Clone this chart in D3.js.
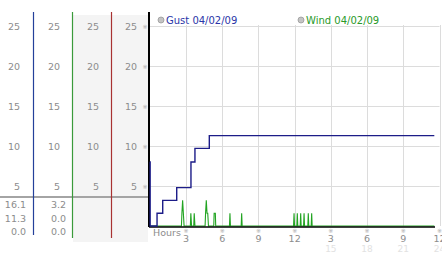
<!DOCTYPE html>
<html>
<head>
<meta charset="utf-8">
<script src="https://cdn.jsdelivr.net/npm/d3@7"></script>
<style>
  body { margin: 0; background: #fff; }
  svg { display: block; font-family: "DejaVu Sans", sans-serif; }
</style>
</head>
<body>
<div id="container"></div>
<script>
// datos
const yTicks = [5, 10, 15, 20, 25];
const xTicks = [3, 6, 9, 12, 15, 18, 21, 24];
const xLabels = ["3", "6", "9", "12", "3", "6", "9", "12"];
const xLabels2 = ["", "", "", "", "15", "18", "21", "24"];

// resumen bajo el panel izquierdo (max / actual / min)
const gustStats = ["16.1", "11.3", "0.0"];
const windStats = ["3.2", "0.0", "0.0"];

// ráfaga: [hora, valor]
const gust = [
  [0, 8.0], [0.03, 0], [0.6, 1.6], [1.07, 3.2], [2.23, 4.8],
  [3.41, 8.0], [3.74, 9.7], [4.93, 11.3], [23.57, 11.3]
];

// viento: [hora, valor]
const wind = [
  [0, 0], [2.62, 0], [2.66, 1.6], [2.72, 3.2], [2.78, 1.6], [2.84, 0],
  [3.36, 0], [3.4, 1.6], [3.46, 0], [3.64, 0], [3.68, 1.6], [3.74, 0],
  [4.58, 0], [4.62, 1.6], [4.68, 3.2], [4.74, 1.6], [4.8, 1.6], [4.86, 0],
  [5.3, 0], [5.33, 1.6], [5.43, 1.6], [5.46, 0],
  [6.6, 0], [6.64, 1.6], [6.68, 0],
  [7.57, 0], [7.61, 1.6], [7.65, 0],
  [11.91, 0], [11.95, 1.6], [11.99, 0],
  [12.18, 0], [12.22, 1.6], [12.26, 0],
  [12.46, 0], [12.5, 1.6], [12.54, 0],
  [12.74, 0], [12.78, 1.6], [12.82, 0],
  [13.09, 0], [13.13, 1.6], [13.17, 0],
  [13.37, 0], [13.41, 1.6], [13.45, 0],
  [23.57, 0]
];

const WIDTH = 442, HEIGHT = 253;

const svg = d3.select('#container').append('svg')
  .attr("width", WIDTH).attr("height", HEIGHT);

const x = d3.scaleLinear().domain([0, 24]).range([149.8, 439.5]);
const y = d3.scaleLinear().domain([0, 25]).range([226, 26]);

const gray = "#8c8c8c";

// fondos grises de las columnas 3 y 4
svg.append("rect").attr("x", 73).attr("y", 15).attr("width", 75).attr("height", 227)
  .attr("fill", "#f4f4f4");

// columnas de etiquetas del eje y
const cols = [20, 60, 99, 137];
cols.forEach(cx => {
  svg.append("g").selectAll("text").data(yTicks).join("text")
    .attr("x", cx).attr("y", d => y(d) + 3.5)
    .attr("text-anchor", "end")
    .attr("font-size", 9.5).attr("fill", gray)
    .text(d => d);
});

// marcas pequeñas junto al eje
svg.append("g").selectAll("text").data(yTicks).join("text")
  .attr("x", 145).attr("y", d => y(d) + 2.5)
  .attr("text-anchor", "middle")
  .attr("font-size", 6).attr("fill", "#aaa")
  .text("※");

// separador horizontal
svg.append("line").attr("x1", 0).attr("x2", 149).attr("y1", 197).attr("y2", 197)
  .attr("stroke", "#a4a4a4").attr("stroke-width", 2);

// líneas de color de las columnas
const colLines = [
  { x: 33.5, color: "#24409a", y2: 235 },
  { x: 72.5, color: "#3a9a3a", y2: 238 },
  { x: 111.5, color: "#a83232", y2: 238 }
];
svg.append("g").selectAll("line").data(colLines).join("line")
  .attr("x1", d => d.x).attr("x2", d => d.x)
  .attr("y1", 12).attr("y2", d => d.y2)
  .attr("stroke", d => d.color).attr("stroke-width", 1.2);

// valores resumen
const statY = [208, 222, 235];
svg.append("g").selectAll("text").data(gustStats).join("text")
  .attr("x", 26).attr("y", (d, i) => statY[i])
  .attr("text-anchor", "end").attr("font-size", 9.5).attr("fill", gray)
  .text(d => d);
svg.append("g").selectAll("text").data(windStats).join("text")
  .attr("x", 66).attr("y", (d, i) => statY[i])
  .attr("text-anchor", "end").attr("font-size", 9.5).attr("fill", gray)
  .text(d => d);

// rejilla
svg.append("g").selectAll("line").data(yTicks).join("line")
  .attr("x1", x(0)).attr("x2", x(24))
  .attr("y1", d => Math.round(y(d)) + 0.5).attr("y2", d => Math.round(y(d)) + 0.5)
  .attr("stroke", "#dcdcdc");
svg.append("g").selectAll("line").data(xTicks).join("line")
  .attr("x1", d => Math.round(x(d)) + 0.5).attr("x2", d => Math.round(x(d)) + 0.5)
  .attr("y1", 25).attr("y2", 226)
  .attr("stroke", "#dcdcdc");

// etiquetas del eje x
svg.append("text").attr("x", 153).attr("y", 236)
  .attr("font-size", 9.5).attr("fill", gray).text("Hours");
svg.append("g").selectAll("text").data(xTicks).join("text")
  .attr("x", d => x(d)).attr("y", 233)
  .attr("text-anchor", "middle").attr("font-size", 6).attr("fill", "#aaa")
  .text("※");
svg.append("g").selectAll("text").data(xTicks).join("text")
  .attr("x", d => x(d)).attr("y", 242)
  .attr("text-anchor", "middle").attr("font-size", 9.5).attr("fill", gray)
  .text((d, i) => xLabels[i]);
svg.append("g").selectAll("text").data(xTicks).join("text")
  .attr("x", d => x(d)).attr("y", 252)
  .attr("text-anchor", "middle").attr("font-size", 9).attr("fill", "#e2e2e2")
  .text((d, i) => xLabels2[i]);

// series
const line = d3.line().x(d => x(d[0])).y(d => y(d[1]));

svg.append("path").datum(wind)
  .attr("d", line.curve(d3.curveLinear))
  .attr("fill", "none").attr("stroke", "#22a422").attr("stroke-width", 1.1);

// ejes negros
svg.append("line").attr("x1", 149).attr("x2", 149).attr("y1", 12).attr("y2", 227)
  .attr("stroke", "#000").attr("stroke-width", 2);
svg.append("line").attr("x1", 149).attr("x2", 435).attr("y1", 227).attr("y2", 227)
  .attr("stroke", "#000").attr("stroke-width", 1.5);

svg.append("path").datum(gust)
  .attr("d", d3.line().x(d => x(d[0])).y(d => y(d[1])).curve(d3.curveStepAfter))
  .attr("fill", "none").attr("stroke", "#1c1c88").attr("stroke-width", 1.4);

// leyenda
const legend = [
  { x: 161, label: "Gust 04/02/09", color: "#2a36a8" },
  { x: 301, label: "Wind 04/02/09", color: "#2a9a2a" }
];
const lg = svg.append("g").selectAll("g").data(legend).join("g");
lg.append("circle").attr("cx", d => d.x).attr("cy", 20).attr("r", 3)
  .attr("fill", "#c4c4c4").attr("stroke", "#999").attr("stroke-width", 0.8);
lg.append("text").attr("x", d => d.x + 5).attr("y", 24)
  .attr("font-size", 10).attr("fill", d => d.color)
  .text(d => d.label);
</script>
</body>
</html>
